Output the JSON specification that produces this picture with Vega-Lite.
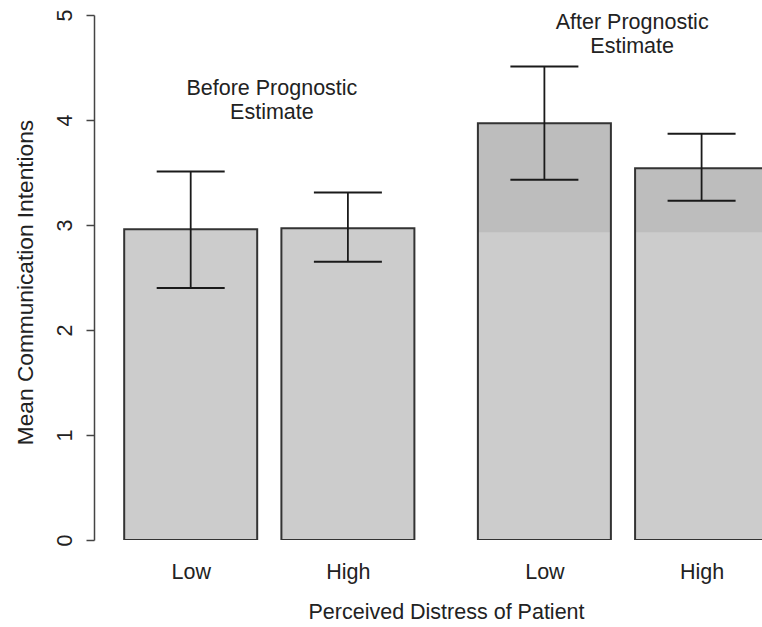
{
  "$schema": "https://vega.github.io/schema/vega-lite/v6.json",
  "width": 668,
  "height": 525,
  "autosize": {"type": "none"},
  "padding": {"left": 94, "top": 15, "right": 0, "bottom": 87},
  "background": "white",
  "config": {
    "view": {"stroke": null},
    "font": "Liberation Sans",
    "axis": {"labelFont": "Liberation Sans", "titleFont": "Liberation Sans", "labelColor": "#222222", "titleColor": "#222222", "titleFontWeight": "normal", "labelFontSize": 21.5, "titleFontSize": 21.5, "grid": false}
  },
  "datasets": {
    "bars": [
      {"phase": "Before", "distress": "Low", "pos": 0.7, "mean": 2.96, "lo": 2.40, "hi": 3.51, "shade_from": null},
      {"phase": "Before", "distress": "High", "pos": 1.9, "mean": 2.97, "lo": 2.65, "hi": 3.31, "shade_from": null},
      {"phase": "After", "distress": "Low", "pos": 3.4, "mean": 3.97, "lo": 3.43, "hi": 4.51, "shade_from": 2.93},
      {"phase": "After", "distress": "High", "pos": 4.6, "mean": 3.54, "lo": 3.23, "hi": 3.87, "shade_from": 2.93}
    ],
    "notes": [
      {"text": "Before Prognostic", "pos": 1.32, "y": 4.30},
      {"text": "Estimate", "pos": 1.32, "y": 4.07},
      {"text": "After Prognostic", "pos": 4.07, "y": 4.92},
      {"text": "Estimate", "pos": 4.07, "y": 4.70}
    ]
  },
  "layer": [
    {
      "data": {"name": "bars"},
      "mark": {"type": "bar", "width": 133, "fill": "#cccccc", "stroke": null, "clip": true},
      "encoding": {
        "x": {
          "field": "pos", "type": "quantitative",
          "scale": {"domain": [0, 5.023], "nice": false, "zero": false},
          "axis": {
            "values": [0.7, 1.9, 3.4, 4.6],
            "labelExpr": "(datum.value < 1.5 || (datum.value > 3 && datum.value < 4)) ? 'Low' : 'High'",
            "domain": false, "ticks": false, "labelPadding": 21, "labelBaseline": "top",
            "title": "Perceived Distress of Patient",
            "titleX": 352, "titleY": 72, "titleBaseline": "middle", "titleAnchor": null
          }
        },
        "y": {
          "field": "mean", "type": "quantitative",
          "scale": {"domain": [0, 5], "nice": false},
          "axis": {
            "values": [0, 1, 2, 3, 4, 5], "format": "d",
            "labelAngle": -90, "labelAlign": "center", "labelBaseline": "bottom",
            "labelPadding": 10, "tickSize": 8, "tickWidth": 1.5, "tickColor": "#444444",
            "domainColor": "#444444", "domainWidth": 1.5,
            "title": "Mean Communication Intentions", "titleFontSize": 22.7,
            "titleAngle": -90, "titleX": -69, "titleY": 267, "titleBaseline": "middle", "titleAlign": "center"
          }
        }
      }
    },
    {
      "data": {"name": "bars"},
      "transform": [{"filter": "datum.shade_from != null"}],
      "mark": {"type": "bar", "width": 133, "fill": "#bdbdbd", "stroke": null, "clip": true},
      "encoding": {
        "x": {"field": "pos", "type": "quantitative"},
        "y": {"field": "shade_from", "type": "quantitative"},
        "y2": {"field": "mean"}
      }
    },
    {
      "data": {"name": "bars"},
      "mark": {"type": "bar", "width": 133, "fill": null, "fillOpacity": 0, "stroke": "#333333", "strokeWidth": 2, "clip": true},
      "encoding": {
        "x": {"field": "pos", "type": "quantitative"},
        "y": {"field": "mean", "type": "quantitative"}
      }
    },
    {
      "data": {"name": "bars"},
      "mark": {"type": "rule", "color": "#1a1a1a", "strokeWidth": 1.8},
      "encoding": {
        "x": {"field": "pos", "type": "quantitative"},
        "y": {"field": "lo", "type": "quantitative"},
        "y2": {"field": "hi"}
      }
    },
    {
      "data": {"name": "bars"},
      "mark": {"type": "tick", "orient": "horizontal", "size": 68, "thickness": 2, "color": "#1a1a1a", "opacity": 1},
      "encoding": {
        "x": {"field": "pos", "type": "quantitative"},
        "y": {"field": "lo", "type": "quantitative"}
      }
    },
    {
      "data": {"name": "bars"},
      "mark": {"type": "tick", "orient": "horizontal", "size": 68, "thickness": 2, "color": "#1a1a1a", "opacity": 1},
      "encoding": {
        "x": {"field": "pos", "type": "quantitative"},
        "y": {"field": "hi", "type": "quantitative"}
      }
    },
    {
      "data": {"name": "notes"},
      "mark": {"type": "text", "font": "Liberation Sans", "fontSize": 21.5, "color": "#222222", "align": "center", "baseline": "middle"},
      "encoding": {
        "x": {"field": "pos", "type": "quantitative"},
        "y": {"field": "y", "type": "quantitative"},
        "text": {"field": "text"}
      }
    }
  ]
}
